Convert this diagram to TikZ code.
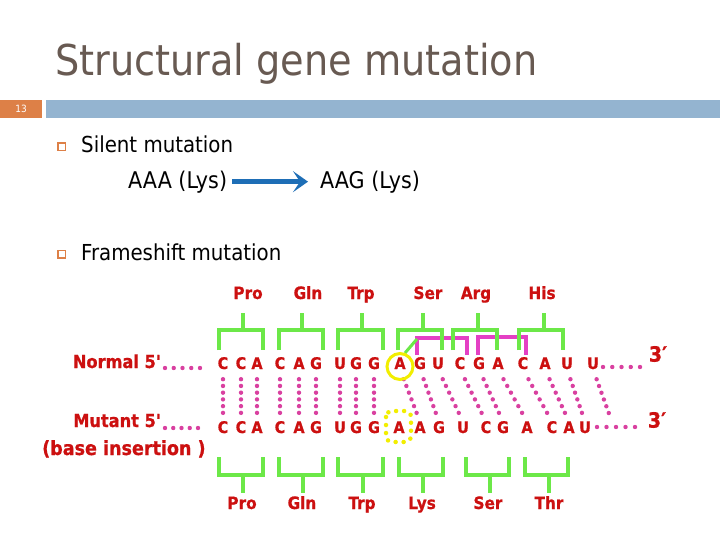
\documentclass[tikz,border=0pt]{standalone}
\usepackage{fontspec}
\setmainfont{DejaVu Sans Condensed}
\newfontfamily\redfont[BoldFeatures={FakeBold=0.8}]{DejaVu Sans Condensed}
\usetikzlibrary{arrows.meta,calc}
\definecolor{titlec}{RGB}{104,90,82}
\definecolor{orangec}{RGB}{221,128,71}
\definecolor{barc}{RGB}{148,180,208}
\definecolor{redc}{RGB}{204,16,16}
\definecolor{dotc}{RGB}{217,64,160}
\definecolor{greenc}{RGB}{108,232,72}
\definecolor{magc}{RGB}{228,64,196}
\definecolor{yelc}{RGB}{242,238,0}
\definecolor{arrowc}{RGB}{30,110,182}
\tikzset{
  seq/.style={inner sep=0pt, text=redc, font=\redfont\fontsize{16}{18}\selectfont\bfseries, text height=11pt, text depth=0pt, anchor=base},
  aalbl/.style={inner sep=0pt, text=redc, font=\redfont\fontsize{17}{20}\selectfont\bfseries, anchor=base},
  sidelbl/.style={inner sep=0pt, text=redc, font=\redfont\fontsize{18}{21}\selectfont\bfseries},
  body/.style={inner sep=0pt, anchor=base west, font=\fontsize{22}{26}\selectfont},
  dotnode/.style={circle, fill=dotc, inner sep=0pt, minimum size=4.4pt},
  gbr/.style={draw=greenc, line width=3.6pt},
  mbr/.style={draw=magc, line width=3.6pt},
  bulletbox/.style={draw=orangec, line width=1.5pt, minimum size=7.5pt, inner sep=0pt}
}
\newcommand{\dotline}[2]{\path ($(#1)!0.19!(#2)$) -- ($(#1)!0.83!(#2)$) node foreach \p in {0,0.2,0.4,0.6,0.8,1} [pos=\p, dotnode] {};}
\begin{document}
\begin{tikzpicture}[x=1pt,y=-1pt]
\useasboundingbox (0,0) rectangle (720,540);
\fill[white] (0,0) rectangle (720,540);
% title and header
\node[anchor=base west, inner sep=0pt, text=titlec, font=\fontsize{42.5}{50}\selectfont] (title) at (55,76) {Structural gene mutation};
\node[fill=orangec, minimum width=42pt, minimum height=18pt, anchor=north west, inner sep=0pt, text=white, font=\fontsize{10}{12}\selectfont] (num) at (0,100) {13};
\node[fill=barc, minimum width=674pt, minimum height=18pt, anchor=north west, inner sep=0pt] (bar) at (46,100) {};
% bullets
\node[bulletbox] (b1) at (61.5,147) {};
\node[bulletbox] (b2) at (61.5,254) {};
\node[body] (silent) at (81,153) {Silent mutation};
\node[body, font=\fontsize{23}{27}\selectfont] (aaa) at (128,189) {AAA (Lys)};
\node[body, font=\fontsize{23}{27}\selectfont] (aag) at (320,189) {AAG (Lys)};
\draw[arrowc, line width=5pt, shorten <=5pt, shorten >=12pt, -{Stealth[length=15pt,width=21pt,inset=7pt]}] ($(aaa.east)+(0,-1)$) -- ($(aag.west |- aaa.east)+(0,-1)$);
\node[body] (frame) at (81,260) {Frameshift mutation};
% side labels
\node[sidelbl, anchor=base east] (normal) at (161,368) {Normal 5\textquotesingle};
\node[sidelbl, anchor=base east] (mutant) at (161,427) {Mutant 5\textquotesingle};
\node[sidelbl, anchor=base west, font=\redfont\fontsize{19.5}{23}\selectfont\bfseries] (ins) at (42,455) {(base insertion )};
% sequences
\foreach \x/\l [count=\i] in {223/C,241/C,257/A,280/C,299/A,316/G,340/U,356/G,374/G,400/A,420/G,438/U,460/C,479/G,498/A,523/C,545/A,567/U,593/U}
  \node[seq] (n\i) at (\x,369) {\l};
\foreach \x/\l [count=\i] in {223/C,241/C,257/A,280/C,299/A,316/G,340/U,356/G,374/G,399/A,420/A,439/G,463/U,486/C,503/G,527/A,552/C,569/A,585/U}
  \node[seq] (m\i) at (\x,433) {\l};
\node[inner sep=0pt, text=redc, font=\redfont\fontsize{21}{24}\selectfont\bfseries] (n3p) at (658,354) {3′};
\node[inner sep=0pt, text=redc, font=\redfont\fontsize{21}{24}\selectfont\bfseries] (m3p) at (657,420) {3′};
\coordinate (mend) at (612,422);
% magenta brackets
\draw[mbr] (417,355) -- (417,338) -- (467,338) -- (467,355);
\draw[mbr] (478,355) -- (478,337) -- (526,337) -- (526,355);
% green brackets top
\foreach \a/\b/\s in {219/263/243, 279/323/302, 338/383/362, 398/442/423, 453/497/478, 519/563/544}
  \draw[gbr] (\a,350) -- (\a,330) -- (\b,330) -- (\b,350) (\s,330) -- (\s,313);
\draw[greenc, line width=3pt] (405,353) -- (417,339);
% green brackets bottom
\foreach \a/\b/\s in {219/263/243, 279/323/303, 338/383/363, 399/443/423, 466/509/490, 525/568/549}
  \draw[gbr] (\a,457) -- (\a,475) -- (\b,475) -- (\b,457) (\s,475) -- (\s,493);
% amino acid labels
\foreach \x/\t in {248/Pro, 308/Gln, 361/Trp, 428/Ser, 476/Arg, 542/His}
  \node[aalbl] at (\x,299) {\t};
\foreach \x/\t in {242/Pro, 302/Gln, 362/Trp, 422/Lys, 488/Ser, 549/Thr}
  \node[aalbl] at (\x,509) {\t};
% dotted links
\foreach \i in {1,...,9} { \dotline{n\i.south}{m\i.north} }
\foreach \i [evaluate=\i as \j using int(\i+1)] in {10,...,18} { \dotline{n\i.south}{m\j.north} }
\dotline{n19.south}{mend}
\path (165,368) -- (200,368) node foreach \p in {0,0.25,0.5,0.75,1} [pos=\p, dotnode] {};
\path (165,428) -- (198,428) node foreach \p in {0,0.25,0.5,0.75,1} [pos=\p, dotnode] {};
\path (603,367) -- (640,367) node foreach \p in {0,0.25,0.5,0.75,1} [pos=\p, dotnode] {};
\path (597,427) -- (635,427) node foreach \p in {0,0.25,0.5,0.75,1} [pos=\p, dotnode] {};
% yellow marks
\draw[yelc, line width=3pt] ($(n10.center)+(0,3)$) circle (13pt);
\draw[yelc, line width=4.5pt, line cap=round, dash pattern=on 0pt off 8pt, rounded corners=6pt] ($(m10.center)+(-13,-16.5)$) rectangle ($(m10.center)+(12,14.5)$);
\end{tikzpicture}
\end{document}
